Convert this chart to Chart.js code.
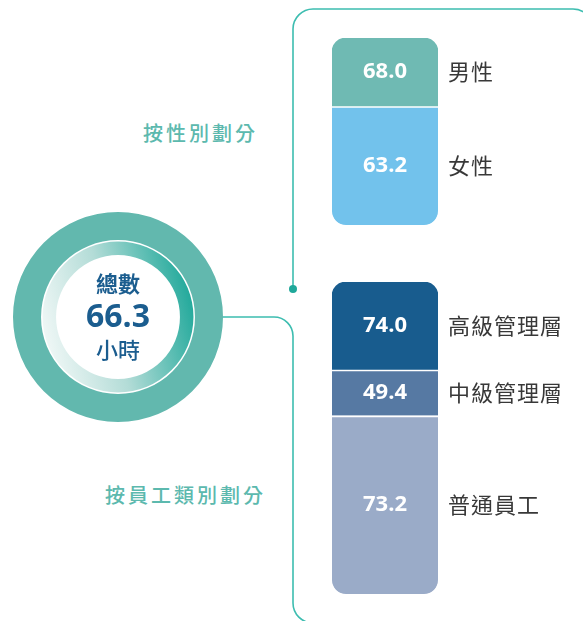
<!DOCTYPE html>
<html>
<head>
<meta charset="utf-8">
<script src="https://cdn.jsdelivr.net/npm/chart.js@4/dist/chart.umd.min.js"></script>
<style>
  html, body { margin: 0; padding: 0; background: #ffffff; }
  body { width: 583px; height: 621px; position: relative; overflow: hidden; }
  .abs { position: absolute; }
  .title { font-family: "Noto Sans CJK TC", "Noto Sans", sans-serif; font-size: 20px; line-height: 24px; font-weight: 500;
           color: #5cb9ae; letter-spacing: 3px; white-space: nowrap; }
</style>
</head>
<body>
<svg class="abs" style="left:0;top:0" width="583" height="621">
  <path d="M293 289 V29 A20 20 0 0 1 313 9 H573 A20 20 0 0 1 593 29" fill="none" stroke="#3dbdb0" stroke-width="1.6"/>
  <circle cx="293" cy="289" r="4" fill="#1fa89a"/>
  <path d="M222 317 H274 A19 19 0 0 1 293 336 V603 A20 20 0 0 0 313 623" fill="none" stroke="#3dbdb0" stroke-width="1.6"/>
</svg>
<div class="abs title" id="t1" style="left:143px;top:121px"></div>
<div class="abs title" id="t2" style="left:105px;top:483px"></div>
<canvas id="donut" class="abs" style="left:8px;top:207px" width="220" height="220"></canvas>
<canvas id="genderBar" class="abs" style="left:320px;top:38px" width="263" height="187"></canvas>
<canvas id="employeeBar" class="abs" style="left:320px;top:282px" width="263" height="312"></canvas>
<script>
// ---- data ----
const totalHours = 66.3;
const totalTitle = '總數';
const totalUnit = '小時';

const genderTitle = '按性別劃分';
const genderCategories = ['男性', '女性'];
const genderHours = [68.0, 63.2];
const genderSegmentWeight = [68, 119];

const employeeTitle = '按員工類別劃分';
const employeeCategories = ['高級管理層', '中級管理層', '普通員工'];
const employeeHours = [74.0, 49.4, 73.2];
const employeeSegmentWeight = [87.5, 46, 178.5];

// ---- styles ----
const genderColors = ['#6fbab3', '#72c2ec'];
const employeeColors = ['#185c8e', '#5679a3', '#9aabc8'];

document.getElementById('t1').textContent = genderTitle;
document.getElementById('t2').textContent = employeeTitle;

Chart.defaults.animation = false;
Chart.defaults.events = [];

const labelPlugin = {
  id: 'segLabels',
  afterDatasetsDraw(chart, args, opts) {
    const ctx = chart.ctx;
    const area = chart.chartArea;
    ctx.save();
    chart.data.datasets.forEach((ds, i) => {
      const el = chart.getDatasetMeta(i).data[0];
      const cy = (el.y + el.base) / 2;
      ctx.textBaseline = 'middle';
      ctx.textAlign = 'center';
      ctx.fillStyle = '#ffffff';
      ctx.font = 'bold 22px "Open Sans", "Noto Sans", sans-serif';
      ctx.fillText(ds.hours.toFixed(1), el.x, cy);
      ctx.textAlign = 'left';
      ctx.fillStyle = '#383838';
      ctx.font = '22px "Noto Sans CJK TC", "Noto Sans", sans-serif';
      try { ctx.letterSpacing = '1px'; } catch (e) {}
      ctx.fillText(ds.label, area.right + 10, cy);
      try { ctx.letterSpacing = '0px'; } catch (e) {}
    });
    ctx.restore();
  }
};

function stackedBar(canvasId, cats, hours, weights, colors) {
  const n = cats.length;
  const total = weights.reduce((a, b) => a + b, 0);
  const datasets = cats.map((c, i) => ({
    label: c,
    hours: hours[i],
    data: [weights[i]],
    backgroundColor: colors[i],
    borderColor: '#ffffff',
    borderWidth: i === 0 ? 0 : { top: 2, right: 0, bottom: 0, left: 0 },
    borderSkipped: false,
    borderRadius: {
      topLeft: i === 0 ? 14 : 0,
      topRight: i === 0 ? 14 : 0,
      bottomLeft: i === n - 1 ? 14 : 0,
      bottomRight: i === n - 1 ? 14 : 0
    },
    barPercentage: 1,
    categoryPercentage: 1
  }));
  return new Chart(document.getElementById(canvasId), {
    type: 'bar',
    data: { labels: [''], datasets },
    options: {
      responsive: false,
      maintainAspectRatio: false,
      layout: { padding: { left: 12, right: 145, top: 0, bottom: 0 } },
      plugins: { legend: { display: false }, tooltip: { enabled: false } },
      scales: {
        x: { stacked: true, display: false },
        y: { stacked: true, display: false, reverse: true, min: 0, max: total }
      }
    },
    plugins: [labelPlugin]
  });
}

stackedBar('genderBar', genderCategories, genderHours, genderSegmentWeight, genderColors);
stackedBar('employeeBar', employeeCategories, employeeHours, employeeSegmentWeight, employeeColors);

// ---- doughnut ----
const centerPlugin = {
  id: 'centerText',
  afterDraw(chart) {
    const ctx = chart.ctx;
    const a = chart.chartArea;
    const cx = (a.left + a.right) / 2;
    const cy = (a.top + a.bottom) / 2;
    ctx.save();
    ctx.textAlign = 'center';
    ctx.textBaseline = 'middle';
    ctx.fillStyle = '#1b5d8f';
    ctx.font = 'bold 22px "Noto Sans CJK TC", sans-serif';
    ctx.fillText(totalTitle, cx, cy - 33);
    ctx.font = 'bold 32px "Open Sans", "Noto Sans", sans-serif';
    ctx.fillText(totalHours.toFixed(1), cx, cy + 1);
    ctx.font = '500 22px "Noto Sans CJK TC", sans-serif';
    ctx.fillText(totalUnit, cx, cy + 33);
    ctx.restore();
  }
};

function ringGradient(context) {
  const chart = context.chart;
  const a = chart.chartArea;
  if (!a) return '#9fd3cd';
  const cx = (a.left + a.right) / 2;
  const cy = (a.top + a.bottom) / 2;
  const g = chart.ctx.createLinearGradient(cx - 76, cy + 20, cx + 76, cy - 20);
  g.addColorStop(0, '#f1f8f7');
  g.addColorStop(0.45, '#b3dcd7');
  g.addColorStop(1, '#1fa89a');
  return g;
}

new Chart(document.getElementById('donut'), {
  type: 'doughnut',
  data: {
    labels: [totalTitle],
    datasets: [
      { data: [totalHours], backgroundColor: '#62b8ae', borderWidth: 0, weight: 28 },
      { data: [totalHours], backgroundColor: 'rgba(255,255,255,0)', borderWidth: 0, weight: 1.5 },
      { data: [totalHours], backgroundColor: ringGradient, borderWidth: 0, weight: 13.5 }
    ]
  },
  options: {
    responsive: false,
    maintainAspectRatio: false,
    cutout: '59%',
    layout: { padding: 5 },
    plugins: { legend: { display: false }, tooltip: { enabled: false } }
  },
  plugins: [centerPlugin]
});
</script>
</body>
</html>
